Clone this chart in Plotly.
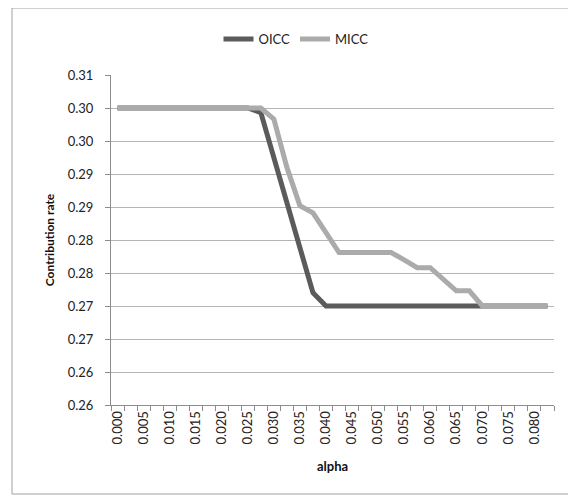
import plotly.graph_objects as go

alpha = [0.0, 0.0025, 0.005, 0.0075, 0.01, 0.0125, 0.015, 0.0175, 0.02, 0.0225,
         0.025, 0.0275, 0.03, 0.0325, 0.035, 0.0375, 0.04, 0.0425, 0.045, 0.0475,
         0.05, 0.0525, 0.055, 0.0575, 0.06, 0.0625, 0.065, 0.0675, 0.07, 0.0725,
         0.075, 0.0775, 0.08, 0.0825]

oicc = [0.300, 0.300, 0.300, 0.300, 0.300, 0.300, 0.300, 0.300, 0.300, 0.300,
        0.300, 0.2993, 0.2925, 0.2857, 0.2788, 0.2720, 0.270, 0.270, 0.270, 0.270,
        0.270, 0.270, 0.270, 0.270, 0.270, 0.270, 0.270, 0.270, 0.270, 0.270,
        0.270, 0.270, 0.270, 0.270]

micc = [0.300, 0.300, 0.300, 0.300, 0.300, 0.300, 0.300, 0.300, 0.300, 0.300,
        0.300, 0.300, 0.2983, 0.2910, 0.2852, 0.2841, 0.2811, 0.2781, 0.2781, 0.2781,
        0.2781, 0.2781, 0.2770, 0.2758, 0.2758, 0.2740, 0.2723, 0.2723, 0.270, 0.270,
        0.270, 0.270, 0.270, 0.270]

x_tick_vals = [0.000, 0.005, 0.010, 0.015, 0.020, 0.025, 0.030, 0.035, 0.040,
               0.045, 0.050, 0.055, 0.060, 0.065, 0.070, 0.075, 0.080]
x_tick_labels = ["0.000", "0.005", "0.010", "0.015", "0.020", "0.025", "0.030",
                 "0.035", "0.040", "0.045", "0.050", "0.055", "0.060", "0.065",
                 "0.070", "0.075", "0.080"]

y_tick_vals = [0.255, 0.260, 0.265, 0.270, 0.275, 0.280, 0.285, 0.290, 0.295, 0.300, 0.305]
y_tick_labels = ["0.26", "0.26", "0.27", "0.27", "0.28", "0.28", "0.29", "0.29",
                 "0.30", "0.30", "0.31"]

FONT = "Lato"
OFF = 8  # page body margin offset
W, H = 576 - OFF, 498 - OFF
L, R, T, B = 111 - OFF, 22, 75 - OFF, 93
pw, ph = W - L - R, H - T - B


def px_x(p):
    # p in screenshot pixels
    return (p - OFF - L) / pw


def px_y(p):
    return (H - B - (p - OFF)) / ph


fig = go.Figure()
fig.add_trace(go.Scatter(x=alpha, y=oicc, mode="lines", name="OICC",
                         line=dict(color="#5b5b5b", width=5)))
fig.add_trace(go.Scatter(x=alpha, y=micc, mode="lines", name="MICC",
                         line=dict(color="#ababab", width=5)))

fig.add_shape(type="rect", xref="paper", yref="paper",
              x0=px_x(12), x1=px_x(570), y0=px_y(494), y1=px_y(8),
              line=dict(color="#a0a0a0", width=1), layer="below")

fig.update_layout(
    width=W, height=H,
    margin=dict(l=L, r=R, t=T, b=B),
    paper_bgcolor="white", plot_bgcolor="white",
    font=dict(family=FONT, size=13, color="#222222"),
    showlegend=True,
    legend=dict(orientation="h", x=px_x(296), xanchor="center", y=px_y(39), yanchor="middle",
                font=dict(family=FONT, size=13, color="#222222"),
                itemwidth=30, tracegroupgap=0, bgcolor="rgba(0,0,0,0)"),
)

fig.update_xaxes(
    range=[-0.00125, 0.08375],
    tickmode="array", tickvals=x_tick_vals, ticktext=x_tick_labels,
    tickangle=-90, ticks="", showgrid=False, zeroline=False,
    showline=True, linecolor="#8c8c8c", linewidth=1,
    tickfont=dict(family=FONT, size=13, color="#222222"),
    minor=dict(ticks="outside", ticklen=5, tickcolor="#8c8c8c", tick0=-0.00125,
               dtick=0.0025, showgrid=False),
    title=dict(text="<b>alpha</b>", font=dict(family=FONT, size=13, color="#111111"),
               standoff=18),
)

fig.update_yaxes(
    range=[0.255, 0.305],
    tickmode="array", tickvals=y_tick_vals, ticktext=y_tick_labels,
    ticks="outside", ticklen=5, tickcolor="#8c8c8c", ticklabelstandoff=9,
    showgrid=True, gridcolor="#b4b4b4", gridwidth=1, zeroline=False,
    showline=True, linecolor="#8c8c8c", linewidth=1,
    tickfont=dict(family=FONT, size=13, color="#222222"),
    title=dict(text="<b>Contribution rate</b>", font=dict(family=FONT, size=12, color="#111111"),
               standoff=10),
)

fig.write_html("out.html")
